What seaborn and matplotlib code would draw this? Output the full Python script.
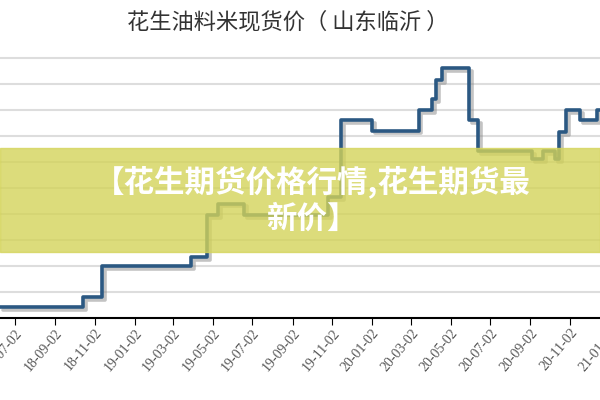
import matplotlib
matplotlib.use('Agg')
import matplotlib.pyplot as plt
import matplotlib.dates as mdates
import matplotlib.patheffects as pe
import pandas as pd
import seaborn as sns

# Datos (índice relativo de precio, escalón "post")
fechas = ['2018-06-09', '2018-10-15', '2018-11-13', '2019-03-30', '2019-04-24',
          '2019-05-11', '2019-06-19', '2019-10-27', '2019-11-16', '2020-01-02',
          '2020-03-14', '2020-04-04', '2020-04-10', '2020-04-19', '2020-05-31',
          '2020-06-14', '2020-09-05', '2020-09-22', '2020-10-10', '2020-10-16',
          '2020-10-27', '2020-11-17', '2020-12-13', '2020-12-18']
precio = [0.42, 0.8, 2.0, 2.35, 3.95,
          4.4, 3.95, 4.65, 7.6, 7.2,
          8.0, 8.4, 9.15, 9.6, 7.6,
          6.4, 6.1, 6.4, 6.1, 7.15,
          8.0, 7.6, 8.0, 8.0]
ticks = ['2018-07-02', '2018-09-02', '2018-11-02', '2019-01-02', '2019-03-02',
         '2019-05-02', '2019-07-02', '2019-09-02', '2019-11-02', '2020-01-02',
         '2020-03-02', '2020-05-02', '2020-07-02', '2020-09-02', '2020-11-02',
         '2021-01-02']
titulo = '花生油料米现货价（ 山东临沂 ）'
banner = '【花生期货价格行情,花生期货最\n新价】'

df = pd.DataFrame({'fecha': pd.to_datetime(fechas), 'precio': precio})

sns.set_style('white')
plt.rcParams['font.family'] = ['Noto Sans CJK SC', 'DejaVu Sans']

fig = plt.figure(figsize=(6, 4), dpi=100)
ax = fig.add_axes([0.0, 0.205, 1.025, 0.67])

sns.lineplot(data=df, x='fecha', y='precio', drawstyle='steps-post', color='#2b5882',
             linewidth=2.6, ax=ax,
             path_effects=[pe.SimpleLineShadow(offset=(2, -2), shadow_color='#888888', alpha=0.5),
                           pe.Normal()])

ax.set_xlim(pd.Timestamp('2018-06-09'), pd.Timestamp('2021-01-10'))
ax.set_ylim(0, 10.3)
ax.set_yticks(range(1, 11))
ax.yaxis.grid(True, color='#dddddd', linewidth=1.5)
ax.tick_params(axis='y', left=False, labelleft=False)
ax.set_xticks(pd.to_datetime(ticks))
ax.xaxis.set_major_formatter(mdates.DateFormatter('%y-%m-%d'))
ax.tick_params(axis='x', bottom=True, length=5, color='black', labelsize=10,
               labelcolor='#555555', pad=1)
for lab in ax.get_xticklabels():
    lab.set_rotation(50)
    lab.set_ha('right')
    lab.set_rotation_mode('anchor')
    lab.set_family('Liberation Serif')
for s in ['left', 'right', 'top']:
    ax.spines[s].set_visible(False)
ax.spines['bottom'].set_color('black')
ax.spines['bottom'].set_linewidth(1.5)
ax.set_xlabel('')
ax.set_ylabel('')

fig.text(0.48, 0.945, titulo, ha='center', va='center', fontsize=16, color='#333333')

# Banda amarilla superpuesta
fig.patches.append(plt.Rectangle((0, 0.37), 1, 0.26, transform=fig.transFigure,
                                 color='#d4d45a', alpha=0.8, zorder=5))
fig.text(0.52, 0.5, banner, ha='center', va='center', fontsize=22, fontweight='bold',
         color='white', linespacing=1.15, multialignment='center', zorder=6)

fig.savefig('out.png', dpi=100)
